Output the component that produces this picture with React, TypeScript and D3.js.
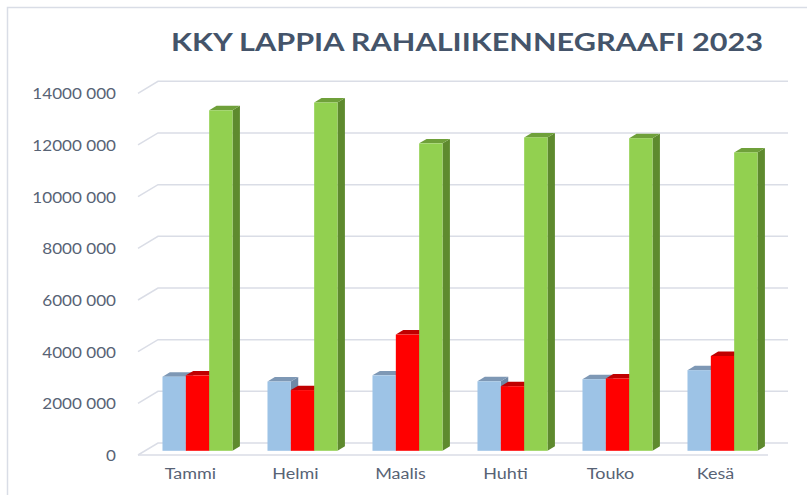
import React from "react";
import * as d3 from "d3";

const categories = ["Tammi", "Helmi", "Maalis", "Huhti", "Touko", "Kesä"];
const seriesNames = ["s1", "s2", "s3"];
const blueValues = [2870000, 2680000, 2920000, 2690000, 2770000, 3120000];
const redValues = [2920000, 2350000, 4500000, 2500000, 2800000, 3670000];
const greenValues = [13180000, 13480000, 11900000, 12130000, 12100000, 11550000];
const tickValues = [0, 2000000, 4000000, 6000000, 8000000, 10000000, 12000000, 14000000];
const tickLabels = ["0", "2000 000", "4000 000", "6000 000", "8000 000", "10000 000", "12000 000", "14000 000"];
const title = "KKY LAPPIA RAHALIIKENNEGRAAFI 2023";

const W = 807;
const H = 495;
const FRONT_LEFT = 138;
const FRONT_RIGHT = 768;
const Y0 = 455;
const Y14 = 93.3;
const DEPTH_X = 20;
const DEPTH_Y = 12;
const BAR_D0 = 0.35;
const BAR_D1 = 0.72;

const colors = [
  { front: "#9DC3E6", top: "#7E98B5", side: "#6F89A6" },
  { front: "#FF0000", top: "#C00000", side: "#B00000" },
  { front: "#92D050", top: "#6FA03A", side: "#5E8A2E" },
];

export default function App() {
  const y = d3.scaleLinear().domain([0, 14000000]).range([Y0, Y14]);
  const x = d3.scaleBand<string>().domain(categories).range([FRONT_LEFT, FRONT_RIGHT]);
  const bw = x.bandwidth();
  const groupW = bw * 0.667;
  const sub = d3
    .scaleBand<string>()
    .domain(seriesNames)
    .range([(bw - groupW) / 2, (bw + groupW) / 2]);
  const data = [blueValues, redValues, greenValues];

  const fdx = BAR_D0 * DEPTH_X;
  const fdy = BAR_D0 * DEPTH_Y;
  const bdx = (BAR_D1 - BAR_D0) * DEPTH_X;
  const bdy = (BAR_D1 - BAR_D0) * DEPTH_Y;

  const gridColor = "#DADDE6";
  const textColor = "#586375";

  const bars: React.ReactNode[] = [];
  categories.forEach((c, i) => {
    seriesNames.forEach((s, j) => {
      const v = data[j][i];
      const x0 = (x(c) as number) + (sub(s) as number) + fdx;
      const x1 = x0 + sub.bandwidth();
      const yb = y(0) - fdy;
      const yt = y(v) - fdy;
      const col = colors[j];
      bars.push(
        <g key={c + s}>
          <polygon
            points={`${x1},${yb} ${x1 + bdx},${yb - bdy} ${x1 + bdx},${yt - bdy} ${x1},${yt}`}
            fill={col.side}
          />
          <polygon
            points={`${x0},${yt} ${x1},${yt} ${x1 + bdx},${yt - bdy} ${x0 + bdx},${yt - bdy}`}
            fill={col.top}
          />
          <rect x={x0} y={yt} width={x1 - x0} height={yb - yt} fill={col.front} />
        </g>
      );
    });
  });

  return (
    <svg
      width={W}
      height={H}
      style={{ position: "absolute", left: 0, top: 0, background: "#fff" }}
      fontFamily="Lato, 'Open Sans', sans-serif"
    >
      <rect x={7.5} y={7.5} width={W + 20} height={H + 20} fill="#fff" stroke="#D9DDE6" strokeWidth={1.5} />
      <text
        x={171}
        y={51}
        fontSize={25}
        fontWeight="bold"
        fill="#44546A"
        textLength={592}
        lengthAdjust="spacingAndGlyphs"
      >
        {title}
      </text>
      {tickValues.map((t, k) => {
        const yf = y(t);
        return (
          <g key={t}>
            <polyline
              points={`${FRONT_LEFT},${yf} ${FRONT_LEFT + DEPTH_X},${yf - DEPTH_Y} ${FRONT_RIGHT + DEPTH_X},${yf - DEPTH_Y}`}
              fill="none"
              stroke={gridColor}
              strokeWidth={1.5}
            />
            <text
              transform={`translate(116,${yf}) scale(1.14,1)`}
              textAnchor="end"
              dominantBaseline="central"
              fontSize={15}
              fill={textColor}
            >
              {tickLabels[k]}
            </text>
          </g>
        );
      })}
      <line x1={FRONT_LEFT} x2={FRONT_RIGHT} y1={y(0)} y2={y(0)} stroke={gridColor} strokeWidth={1.5} />
      {bars}
      {categories.map((c) => (
        <text
          key={c}
          transform={`translate(${(x(c) as number) + bw / 2},479) scale(1.2,1)`}
          textAnchor="middle"
          fontSize={15}
          fill={textColor}
        >
          {c}
        </text>
      ))}
    </svg>
  );
}
